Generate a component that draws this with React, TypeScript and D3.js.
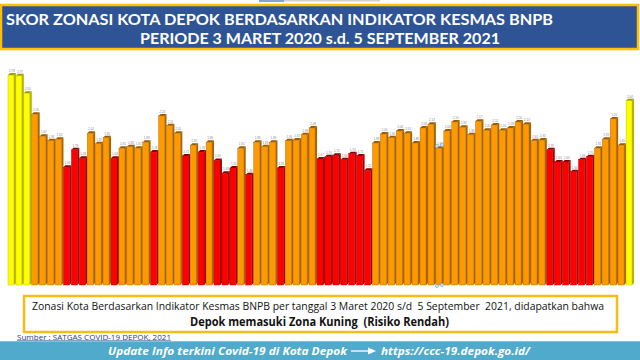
import React from "react";
import * as d3 from "d3";

// Weekly zoning score (BNPB public-health indicator), 3 Mar 2020 – 5 Sep 2021
const scores = [
  2.78, 2.77, 2.54, 2.26, 1.97, 1.91, 1.93, 1.56, 1.79, 1.68,
  2.01, 1.87, 1.95, 1.68, 1.81, 1.83, 1.81, 1.89, 1.76, 2.24,
  2.11, 2.01, 1.71, 1.85, 1.76, 1.89, 1.65, 1.48, 1.55, 1.81,
  1.46, 1.89, 1.83, 1.89, 1.55, 1.91, 1.92, 1.99, 2.08, 1.67,
  1.70, 1.72, 1.66, 1.74, 1.71, 1.52, 1.88, 2.00, 1.95, 2.04,
  2.01, 1.88, 2.08, 2.13, 1.81, 2.04, 2.16, 2.09, 1.99, 2.17,
  2.05, 2.12, 2.05, 2.08, 2.16, 2.13, 1.91, 1.92, 1.79, 1.63,
  1.63, 1.50, 1.66, 1.70, 1.81, 1.93, 2.20, 1.85, 2.44,
];
const weeks = scores.map((_, i) => `Minggu ${i + 1}`);
const zoneLimits = [1.8, 2.4];
const zoneNames = ["Merah", "Oranye", "Kuning"];

const titleLines = [
  "SKOR ZONASI KOTA DEPOK BERDASARKAN INDIKATOR KESMAS BNPB",
  "PERIODE 3 MARET 2020 s.d. 5 SEPTEMBER 2021",
];
const noteLines = [
  "Zonasi Kota Berdasarkan Indikator Kesmas BNPB per tanggal 3 Maret 2020 s/d  5 September  2021, didapatkan bahwa",
  "Depok memasuki Zona Kuning  (Risiko Rendah)",
];
const sourceText = "Sumber : SATGAS COVID-19 DEPOK, 2021";
const footerLeft = "Update Info terkini Covid-19 di Kota Depok";
const footerRight = "https://ccc-19.depok.go.id/";

const zoneStyle: Record<string, { face: string; side: string; top: string }> = {
  Merah: { face: "#FF0000", side: "#A30000", top: "#8A0000" },
  Oranye: { face: "#FF9900", side: "#A86400", top: "#9A5C00" },
  Kuning: { face: "#FFFF00", side: "#B5B500", top: "#9E9E00" },
};

export default function App() {
  const W = 640, H = 360;
  const base = 285;
  const x = d3.scaleBand<string>().domain(weeks).range([8, 634]).padding(0);
  const y = d3.scaleLinear().domain([0, 3]).range([base, base - 3 * 75.5]);
  const zone = d3.scaleThreshold<number, string>().domain(zoneLimits).range(zoneNames);
  const fmt = d3.format(".2f");
  const bw = x.bandwidth();
  const d = 2; // 3D depth

  return (
    <div style={{ position: "fixed", left: 0, top: 0, width: W, height: H, background: "#fff" }}>
      <svg width={W} height={H} viewBox={`0 0 ${W} ${H}`} style={{ display: "block" }}>
        <rect x={0} y={0} width={W} height={H} fill="#ffffff" />
        {/* top small bar */}
        <rect x={259} y={0} width={25} height={2} fill="#7FA7CF" />
        <rect x={284} y={0} width={96} height={1.5} fill="#D0D0D0" />

        {/* Title banner */}
        <rect x={1} y={5} width={637} height={44} fill="#2F5496" stroke="#FFC000" strokeWidth={2.5} />
        <text x={6} y={24.5} fill="#fff" fontFamily="Lato, sans-serif" fontWeight={700} fontSize={16}
          textLength={547} lengthAdjust="spacingAndGlyphs">{titleLines[0]}</text>
        <text x={140} y={44} fill="#fff" fontFamily="Lato, sans-serif" fontWeight={700} fontSize={16}
          textLength={360} lengthAdjust="spacingAndGlyphs">{titleLines[1]}</text>

        {/* Bars */}
        <g>
          {scores.map((v, i) => {
            const k = weeks[i];
            const x0 = x(k)!;
            const top = y(v);
            const st = zoneStyle[zone(v)];
            const fw = bw - d;
            return (
              <g key={k}>
                <polygon
                  points={`${x0 + fw},${top} ${x0 + bw},${top - d} ${x0 + bw},${base - d} ${x0 + fw},${base}`}
                  fill={st.side}
                />
                <polygon
                  points={`${x0},${top} ${x0 + d},${top - d} ${x0 + bw},${top - d} ${x0 + fw},${top}`}
                  fill={st.top}
                />
                <rect x={x0} y={top} width={fw} height={base - top} fill={st.face}
                  stroke={st.side} strokeWidth={0.4} />
                <text x={x0 + bw / 2} y={top - d - 1} textAnchor="middle" fontSize={3}
                  fill="#888" fontFamily="Arial, sans-serif">{fmt(v)}</text>
              </g>
            );
          })}
        </g>

        {/* selection handles artefact */}
        {[[437, 146], [442, 145], [437, 286], [442, 285]].map(([cx, cy], i) => (
          <circle key={i} cx={cx} cy={cy} r={1.6} fill="#CDE6F7" stroke="#6FA8D6" strokeWidth={0.6} />
        ))}

        {/* Note box */}
        <rect x={24} y={296} width={593} height={36} fill="#fff" stroke="#F6BD16" strokeWidth={2.5} />
        <text x={32} y={310} fill="#111" fontFamily="'Open Sans', sans-serif" fontSize={10.5}
          textLength={572} lengthAdjust="spacingAndGlyphs" style={{ whiteSpace: "pre" }}>{noteLines[0]}</text>
        <text x={190} y={326} fill="#111" fontFamily="'Open Sans', sans-serif" fontWeight={700} fontSize={12}
          textLength={259} lengthAdjust="spacingAndGlyphs" style={{ whiteSpace: "pre" }}>{noteLines[1]}</text>

        {/* Source */}
        <text x={17} y={339.5} fill="#1F3C88" fontFamily="'Open Sans', sans-serif" fontSize={7}
          textLength={154} lengthAdjust="spacingAndGlyphs" textDecoration="underline">{sourceText}</text>

        {/* Footer band */}
        <rect x={0} y={341} width={W} height={19} fill="#4FAACB" />
        <rect x={0} y={341} width={W} height={1} fill="#7CC3DC" />
        <text x={108} y={355} fill="#fff" fontFamily="'Open Sans', sans-serif" fontWeight={700} fontStyle="italic"
          fontSize={11} textLength={239} lengthAdjust="spacingAndGlyphs">{footerLeft}</text>
        <line x1={351} y1={351} x2={370} y2={351} stroke="#fff" strokeWidth={1.3} />
        <polygon points="368,347.5 376,351 368,354.5" fill="#fff" />
        <text x={381} y={355} fill="#fff" fontFamily="'Open Sans', sans-serif" fontWeight={700} fontStyle="italic"
          fontSize={11} textLength={149} lengthAdjust="spacingAndGlyphs">{footerRight}</text>
      </svg>
    </div>
  );
}
